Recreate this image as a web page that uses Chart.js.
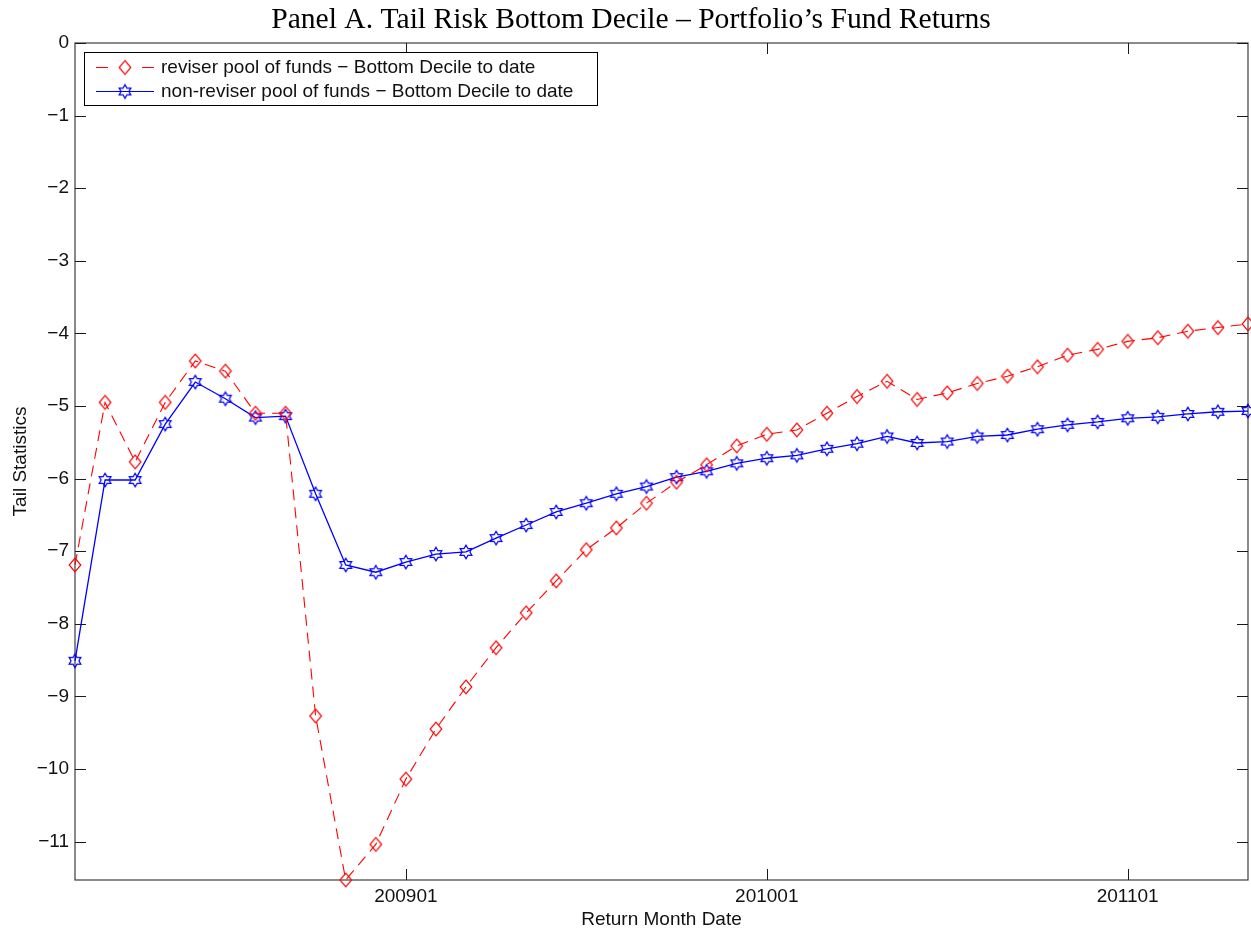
<!DOCTYPE html>
<html>
<head>
<meta charset="utf-8">
<script src="https://cdn.jsdelivr.net/npm/chart.js@4/dist/chart.umd.min.js"></script>
<style>
  html, body { margin: 0; padding: 0; background: #ffffff; }
  #wrap { width: 1251px; height: 931px; }
</style>
</head>
<body>
<div id="wrap"><canvas id="c" width="1251" height="931"></canvas></div>
<script>
// Return months (YYYYMM), one point per month
const months = [
  '200802','200803','200804','200805','200806','200807','200808','200809','200810','200811','200812',
  '200901','200902','200903','200904','200905','200906','200907','200908','200909','200910','200911','200912',
  '201001','201002','201003','201004','201005','201006','201007','201008','201009','201010','201011','201012',
  '201101','201102','201103','201104','201105'
];
// Labelled months on the x axis
const tickMonths = ['200901', '201001', '201101'];
// Y axis tick values
const yTicks = [0, -1, -2, -3, -4, -5, -6, -7, -8, -9, -10, -11];

// Bottom-decile tail statistics to date
const reviser = [
  -7.19, -4.95, -5.77, -4.95, -4.38, -4.52, -5.10, -5.10, -9.27, -11.53,
  -11.04, -10.14, -9.45, -8.87, -8.33, -7.85, -7.41, -6.98, -6.68, -6.34,
  -6.05, -5.81, -5.55, -5.39, -5.33, -5.10, -4.87, -4.66, -4.91, -4.82,
  -4.69, -4.59, -4.46, -4.30, -4.22, -4.11, -4.06, -3.97, -3.92, -3.87
];
const nonReviser = [
  -8.51, -6.02, -6.02, -5.25, -4.67, -4.90, -5.16, -5.14, -6.21, -7.19,
  -7.29, -7.15, -7.04, -7.01, -6.82, -6.64, -6.46, -6.34, -6.21, -6.11,
  -5.98, -5.90, -5.79, -5.72, -5.68, -5.59, -5.52, -5.42, -5.51, -5.49,
  -5.42, -5.40, -5.32, -5.26, -5.22, -5.17, -5.15, -5.11, -5.08, -5.07
];
const seriesNames = [
  'reviser pool of funds \u2212 Bottom Decile to date',
  'non-reviser pool of funds \u2212 Bottom Decile to date'
];
const titleText = 'Panel A. Tail Risk Bottom Decile \u2013 Portfolio\u2019s Fund Returns';
const xTitle = 'Return Month Date';
const yTitle = 'Tail Statistics';

const SANS = "'Liberation Sans', Arial, Helvetica, sans-serif";
const SERIF = "'Liberation Serif', 'Times New Roman', serif";
const FS = 19;

// Open marker glyphs
function makeMarker(drawFn, size) {
  const c = document.createElement('canvas');
  c.width = size; c.height = size;
  const g = c.getContext('2d');
  drawFn(g, size / 2);
  return c;
}
const diamondMarker = makeMarker((g, m) => {
  g.strokeStyle = '#ff0000';
  g.lineWidth = 1.2;
  g.beginPath();
  g.moveTo(m, m - 6.8);
  g.lineTo(m + 5.8, m);
  g.lineTo(m, m + 6.8);
  g.lineTo(m - 5.8, m);
  g.closePath();
  g.stroke();
}, 18);
const hexagramMarker = makeMarker((g, m) => {
  g.strokeStyle = '#0000ff';
  g.lineWidth = 1.2;
  g.beginPath();
  const R = 6.8, r = R / Math.sqrt(3);
  for (let i = 0; i < 12; i++) {
    const a = -Math.PI / 2 + i * Math.PI / 6;
    const rad = i % 2 === 0 ? R : r;
    const px = m + rad * Math.cos(a), py = m + rad * Math.sin(a);
    if (i === 0) g.moveTo(px, py); else g.lineTo(px, py);
  }
  g.closePath();
  g.stroke();
}, 18);

// Box frame with inward ticks, title and in-plot legend
const decorations = {
  id: 'decorations',
  beforeDatasetsDraw(chart) {
    const { ctx, chartArea: a, scales } = chart;
    ctx.save();
    ctx.strokeStyle = '#3c3c3c';
    ctx.lineWidth = 1.2;
    ctx.strokeRect(a.left, a.top, a.right - a.left, a.bottom - a.top);
    ctx.strokeStyle = '#1a1a1a';
    ctx.lineWidth = 1;
    const tl = 11;
    scales.y.ticks.forEach(t => {
      const y = Math.round(scales.y.getPixelForValue(t.value)) + 0.5;
      ctx.beginPath();
      ctx.moveTo(a.left, y); ctx.lineTo(a.left + tl, y);
      ctx.moveTo(a.right, y); ctx.lineTo(a.right - tl, y);
      ctx.stroke();
    });
    tickMonths.forEach(mo => {
      const x = Math.round(scales.x.getPixelForValue(months.indexOf(mo))) + 0.5;
      ctx.beginPath();
      ctx.moveTo(x, a.bottom); ctx.lineTo(x, a.bottom - tl);
      ctx.moveTo(x, a.top); ctx.lineTo(x, a.top + tl);
      ctx.stroke();
    });
    ctx.restore();
  },
  afterDraw(chart) {
    const { ctx } = chart;
    ctx.save();
    // title
    ctx.fillStyle = '#000';
    ctx.font = '29.6px ' + SERIF;
    ctx.textAlign = 'center';
    ctx.textBaseline = 'alphabetic';
    ctx.fillText(titleText, 631, 28);

    // legend
    const bx = 84.5, by = 52.5, bw = 513, bh = 53;
    ctx.fillStyle = '#fff';
    ctx.fillRect(bx, by, bw, bh);
    ctx.strokeStyle = '#000';
    ctx.lineWidth = 1;
    ctx.strokeRect(bx, by, bw, bh);
    const rows = [67, 91];
    // reviser sample: dash, diamond, dash
    ctx.strokeStyle = '#ff0000';
    ctx.lineWidth = 1;
    ctx.beginPath();
    ctx.moveTo(96, rows[0] + 0.5); ctx.lineTo(108, rows[0] + 0.5);
    ctx.moveTo(142, rows[0] + 0.5); ctx.lineTo(154, rows[0] + 0.5);
    ctx.stroke();
    ctx.drawImage(diamondMarker, 125 - 9, rows[0] + 0.5 - 9);
    // non-reviser sample: solid line with hexagram
    ctx.strokeStyle = '#0000ff';
    ctx.beginPath();
    ctx.moveTo(96, rows[1] + 0.5); ctx.lineTo(154, rows[1] + 0.5);
    ctx.stroke();
    ctx.drawImage(hexagramMarker, 125 - 9, rows[1] + 0.5 - 9);

    ctx.fillStyle = '#111';
    ctx.font = FS + 'px ' + SANS;
    ctx.textAlign = 'left';
    ctx.textBaseline = 'middle';
    ctx.fillText(seriesNames[0], 161, rows[0] + 1);
    ctx.fillText(seriesNames[1], 161, rows[1] + 1);
    ctx.restore();
  }
};

new Chart(document.getElementById('c'), {
  type: 'line',
  data: {
    labels: months,
    datasets: [
      {
        label: seriesNames[0],
        data: reviser,
        borderColor: '#ff0000',
        borderWidth: 1.1,
        borderDash: [11, 7],
        pointStyle: diamondMarker,
        pointRadius: 7,
        pointHoverRadius: 7,
        fill: false,
        tension: 0,
        clip: false
      },
      {
        label: seriesNames[1],
        data: nonReviser,
        borderColor: '#0000ff',
        borderWidth: 1.3,
        pointStyle: hexagramMarker,
        pointRadius: 7,
        pointHoverRadius: 7,
        fill: false,
        tension: 0,
        clip: false
      }
    ]
  },
  options: {
    responsive: false,
    animation: false,
    events: [],
    layout: { autoPadding: false, padding: { top: 43, right: 3, left: 0, bottom: 0 } },
    plugins: {
      legend: { display: false },
      title: { display: false },
      tooltip: { enabled: false }
    },
    scales: {
      x: {
        type: 'category',
        offset: false,
        grid: { display: false, drawTicks: false },
        border: { display: false },
        ticks: {
          autoSkip: false,
          maxRotation: 0,
          padding: 5,
          color: '#111',
          font: { family: SANS, size: FS },
          callback: function (v) {
            const m = this.getLabelForValue(v);
            return tickMonths.includes(m) ? m : '';
          }
        },
        title: {
          display: true,
          text: xTitle,
          color: '#111',
          font: { family: SANS, size: FS },
          padding: { top: 0, bottom: 0 }
        },
        afterFit(scale) {
          scale.height = 51;
          scale.paddingLeft = 0;
          scale.paddingRight = 0;
        }
      },
      y: {
        type: 'linear',
        min: Math.min(...reviser, ...nonReviser),
        max: 0,
        grid: { display: false, drawTicks: false },
        border: { display: false },
        afterBuildTicks(scale) { scale.ticks = yTicks.map(v => ({ value: v })); },
        ticks: {
          padding: 6,
          color: '#111',
          font: { family: SANS, size: FS },
          callback: v => (v === 0 ? '0' : '\u2212' + Math.abs(v))
        },
        title: {
          display: true,
          text: yTitle,
          color: '#111',
          font: { family: SANS, size: FS },
          padding: { top: 9, bottom: 0 }
        },
        afterFit(scale) {
          scale.width = 75;
          scale.paddingTop = 0;
          scale.paddingBottom = 0;
        }
      }
    }
  },
  plugins: [decorations]
});
</script>
</body>
</html>
